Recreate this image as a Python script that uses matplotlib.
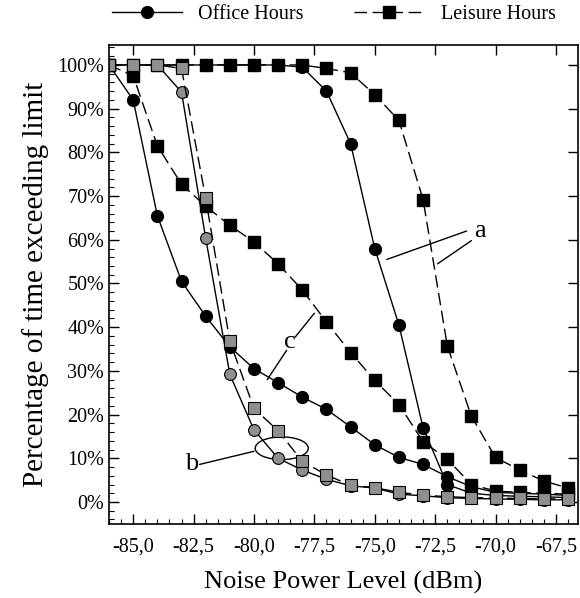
import matplotlib
matplotlib.use("Agg")
import matplotlib.pyplot as plt
from matplotlib.lines import Line2D
from matplotlib.patches import Ellipse
from matplotlib.ticker import MultipleLocator, FuncFormatter

plt.rcParams['font.family'] = ['Liberation Serif', 'DejaVu Serif']

noise_dbm = [-86, -85, -84, -83, -82, -81, -80, -79, -78, -77,
             -76, -75, -74, -73, -72, -71, -70, -69, -68, -67]

# curves "a"
office_a = [100, 100, 100, 100, 100, 100, 100, 100, 99.5, 94,
            82, 58, 40.5, 17, 4, 2, 1.5, 1.3, 1.2, 1]
leisure_a = [100, 100, 100, 100, 100, 100, 100, 100, 100, 99.2,
             98.2, 93.2, 87.3, 69.2, 35.8, 19.6, 10.2, 7.3, 4.8, 3.2]

# curves "c"
office_c = [100, 92, 65.5, 50.5, 42.5, 35.5, 30.5, 27.3, 24, 21.2,
            17.2, 13.1, 10.2, 8.6, 5.8, 3.5, 2.2, 2, 1.8, 1.5]
leisure_c = [100, 97.5, 81.5, 72.7, 67.7, 63.3, 59.5, 54.5, 48.5, 41.2,
             34.2, 27.8, 22.3, 13.8, 9.8, 4, 2.5, 2.2, 2, 1.8]

# curves "b"
office_b = [100, 100, 100, 93.8, 60.4, 29.2, 16.5, 10, 7.3, 5.2,
            3.7, 3.2, 1.8, 1.4, 1, 0.8, 0.7, 0.6, 0.5, 0.5]
leisure_b = [100, 100, 100, 99.2, 69.5, 36.8, 21.4, 16.3, 9.3, 6.2,
             3.8, 3.3, 2.2, 1.6, 1.2, 1, 0.9, 0.8, 0.7, 0.7]

dash = (0, (9, 4))
gray = '#8f8f8f'

fig = plt.figure(figsize=(5.8, 5.98), dpi=100)
ax = fig.add_axes([0.188, 0.124, 0.808, 0.801])

ax.plot(noise_dbm, office_a, '-', color='black', lw=1, marker='o', ms=8.5, mfc='black', mec='black')
ax.plot(noise_dbm, leisure_a, linestyle=dash, color='black', lw=1, marker='s', ms=8, mfc='black', mec='black')
ax.plot(noise_dbm, office_c, '-', color='black', lw=1, marker='o', ms=8.5, mfc='black', mec='black')
ax.plot(noise_dbm, leisure_c, linestyle=dash, color='black', lw=1, marker='s', ms=8, mfc='black', mec='black')
ax.plot(noise_dbm, office_b, '-', color='black', lw=1, marker='o', ms=8.5, mfc=gray, mec='black', mew=0.8)
ax.plot(noise_dbm, leisure_b, linestyle=dash, color='black', lw=1, marker='s', ms=8, mfc=gray, mec='black', mew=0.8)

ax.set_xlim(-86, -66.6)
ax.set_ylim(-5, 104.6)

ax.xaxis.set_major_locator(MultipleLocator(2.5))
ax.xaxis.set_minor_locator(MultipleLocator(0.5))
ax.yaxis.set_minor_locator(MultipleLocator(2))
ax.set_yticks(range(0, 101, 10))
ax.xaxis.set_major_formatter(FuncFormatter(lambda v, p: f"{v:.1f}".replace('.', ',')))
ax.yaxis.set_major_formatter(FuncFormatter(lambda v, p: f"{int(round(v))}%"))
ax.tick_params(which='both', direction='in', top=True, right=True, labelsize=14.5)
ax.tick_params(which='major', length=7, width=1)
ax.tick_params(which='minor', length=3.5, width=0.8, top=False, right=False)
ax.tick_params(axis='x', which='major', pad=10)
for s in ax.spines.values():
    s.set_linewidth(1.2)

ax.set_xlabel("Noise Power Level (dBm)", fontsize=19, labelpad=10)
ax.set_ylabel("Percentage of time exceeding limit", fontsize=21, labelpad=6)

# labels a, b, c
line = dict(arrowstyle='-', color='black', lw=1, shrinkA=0, shrinkB=0)
ax.text(-70.9, 62, 'a', fontsize=19, va='center', ha='left')
ax.annotate('', xy=(-74.5, 55.5), xytext=(-71.2, 62), arrowprops=line)
ax.annotate('', xy=(-72.4, 54.5), xytext=(-71.0, 59.8), arrowprops=line)
ax.text(-78.5, 36.5, 'c', fontsize=19, va='center', ha='center')
ax.annotate('', xy=(-77.5, 43.2), xytext=(-78.3, 37.7), arrowprops=line)
ax.annotate('', xy=(-79.45, 28), xytext=(-78.65, 34.7), arrowprops=line)
ax.text(-82.6, 8.8, 'b', fontsize=19, va='center', ha='center')
ax.annotate('', xy=(-80.0, 11.6), xytext=(-82.25, 8.6), arrowprops=line)
ax.add_patch(Ellipse((-78.85, 12.3), width=2.2, height=5.2, fill=False, color='black', lw=1))

handles = [Line2D([], [], color='black', lw=1, marker='o', ms=8.5),
           Line2D([], [], color='black', lw=1, linestyle=dash, marker='s', ms=8)]
fig.legend(handles, ['Office Hours', 'Leisure Hours'], loc='center', bbox_to_anchor=(0.575, 0.975),
           ncol=2, frameon=False, fontsize=14.5, handlelength=3.5, columnspacing=2.5)

fig.savefig('out.png', dpi=100)
